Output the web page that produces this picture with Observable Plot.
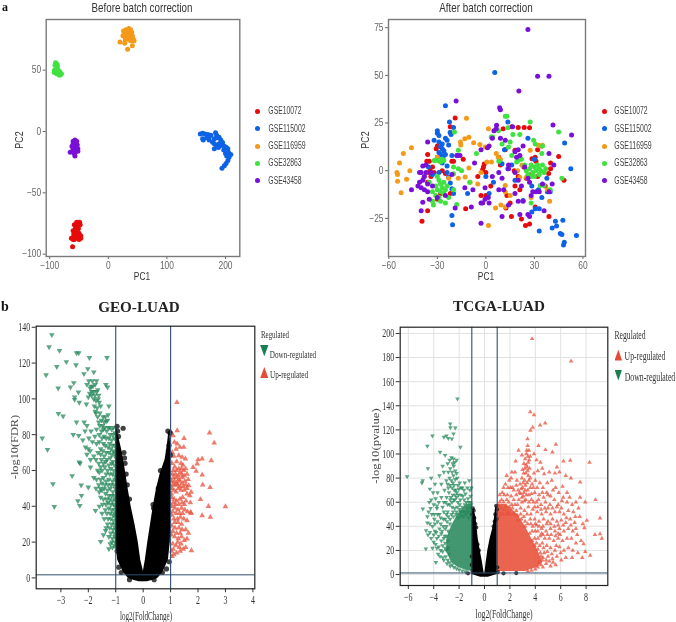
<!DOCTYPE html>
<html><head><meta charset="utf-8">
<script src="https://cdn.jsdelivr.net/npm/d3@7"></script>
<script src="https://cdn.jsdelivr.net/npm/@observablehq/plot@0.6"></script>
<style>
html,body{margin:0;padding:0;background:#fff}
#page{position:relative;width:676px;height:622px;overflow:hidden;background:#fff;filter:blur(0.35px)}
#page svg{position:absolute;background:transparent;max-width:none}
.t{position:absolute;white-space:nowrap;line-height:1;transform-origin:center}
</style></head><body><div id="page"></div>
<script>
// ---------- legend names
const groups = ["GSE10072","GSE115002","GSE116959","GSE32863","GSE43458"];
const groupColors = ["#e60b0b","#0d62e6","#f49a18","#3fe23f","#7a0fd9"];

// ---------- PCA before correction [PC1, PC2]
const before10072 = [[-61,-94],[-63,-87],[-60,-88],[-58,-88],[-56,-87],[-59,-84],[-57,-82],[-60,-81],[-56,-79],[-54,-85],[-53,-81],[-55,-77],[-54,-74],[-52,-76],[-49,-74],[-51,-79],[-48,-76],[-50,-83],[-47,-85],[-47,-87],[-52,-86],[-58,-76],[-50,-88]];
const before115002 = [[157,-2],[161,-1.5],[165,-2],[161,-6],[162,-7],[170,-2.5],[172,-4.6],[175,-3],[172,-7],[168,-5],[181,-6],[183,-1],[185,-3],[186,-5],[189,-4.6],[192,-7],[195,-9],[181,-10],[178,-8.7],[185,-11.4],[192,-11.4],[189,-10],[181,-14],[188,-13],[198,-12],[201,-12.8],[204,-14],[205,-17],[209,-18.7],[206,-21],[204,-23.6],[201,-26],[198,-28],[194,-30],[200,-18],[202,-20],[197,-15]];
const before116959 = [[20,73],[28,72],[33,67],[41,70],[44,74],[38,74],[42,76],[35,75],[30,77],[25,78],[28,80],[32,79],[37,79],[40,81],[34,82],[30,83],[26,82],[35,84],[38,83],[41,78],[33,76],[29,75],[36,78],[31,81]];
const before32863 = [[-91,54],[-90,56],[-88,55],[-92,50],[-89,51],[-87,52],[-86,50],[-90,48],[-92,48],[-88,47],[-85,48],[-84,46],[-82,46],[-80,47],[-83,49],[-86,47],[-88,49],[-87,54]];
const before43458 = [[-60,-8],[-57,-7],[-54,-8],[-62,-12],[-59,-11],[-56,-11],[-53,-11],[-60,-14],[-57,-13],[-54,-14],[-52,-14],[-61,-16],[-65,-17],[-58,-16],[-55,-16],[-52,-16],[-57,-20],[-58,-18],[-60,-10],[-55,-9]];

// ---------- PCA after correction [PC1, PC2]
const after10072 = [[-19,27.6],[-22,23],[-22,20],[-21,5],[-20,5],[-14,6],[-30.7,11.5],[-30,13],[-36,8.5],[-36.5,5],[-35,5],[-34.5,0],[-35,-1],[-34,-3],[-36,-6],[-32,-1],[-27,0],[-25,-1.5],[-36,-21],[-39.5,-26.5],[-12.5,-20],[-22,-12],[-30,-15],[10.7,22],[16,23],[20,22.7],[23.7,22.7],[27,22.5],[9,3],[-1,3.5],[-1.5,2],[0,-1],[-2,0.5],[-3,-13],[0,-13],[12.4,-19.5],[15.8,-24],[22,-25.3],[24.5,-28.7],[27,-28],[30.5,-19],[39,-24],[13,-13],[18,-8],[17.5,0],[23.5,2],[28.5,6.3],[31,5],[40,4],[40,1],[38.8,-1.5],[45,7.5],[48.3,-5],[34.6,13],[32,11],[12,11],[18,10.7],[8,7],[36.7,-8],[30.5,7],[25,-4],[28,-2],[32,-3],[20,-3],[-28,-12],[-33,2],[15,-17],[21,-10],[-5,-3],[3,-8]];
const after115002 = [[5.5,51.5],[-25,34],[-22.5,25.5],[-20,22.7],[-22,20],[-21.5,19],[-30,21],[-30,19.7],[-29,18.5],[-32,16],[-29,15],[-27,14],[-25,17],[-24,16],[-23,13.5],[-28,12.5],[-27,11.5],[-26,10.5],[-29,9.5],[-28,8.5],[-25,8.5],[-26.5,7],[-24,2.5],[-21,8],[-17.5,8],[-35.5,2],[-33,-2],[-29,-1],[-24,-1],[-23,-3.5],[-22,-6.5],[-21,-9.5],[-20,-12],[-21,-23.5],[-20.6,-28.3],[-11.3,-12],[56,-34],[48,-39],[48.5,-37.5],[46,-33],[47,-33.5],[47.6,-26],[43,-26.5],[43.7,-29],[41,-30],[33,-31.6],[33,-20],[30.5,-20],[28.4,-21.7],[52.5,1],[48.7,14.5],[13.6,25.5],[0,-3],[2,-12],[13.6,1],[16,3],[30,6],[37.7,-4],[39.8,-11],[38,-11],[34.6,-14],[32.5,-10],[28.4,-8],[23,-15.6],[18,-5],[4.7,-6],[10,3.7],[11.5,11],[26,17],[-30,7],[-27,4]];
const after116959 = [[-12,27.5],[1.6,22],[-46,12],[-51,9],[-53.4,4],[-55,-1],[-54.6,-2],[-54.6,-5.5],[-47,0],[-49,-4.5],[-52.4,-11.5],[-15.7,15],[-15.5,13.5],[-13,16.8],[-10.5,17.5],[-7.6,14.7],[-3.7,13.8],[-0.4,12.4],[-10.5,1.4],[-9.7,-6],[-5,-7],[-17,-4],[-12.8,-3.3],[1.6,-28.7],[6,-19.6],[9.3,-18],[12,-19],[15,-13],[12,-11],[12,-7.7],[0.6,4.5],[3.5,4.5],[6.4,9],[7.6,7],[27.4,10.7],[32.6,13.3],[35,13.3],[39.4,-16],[38,-10],[28,-14],[19.6,0],[22.3,2.8],[21,-3.5],[25,-3.5],[-30,7],[-38.6,-4],[-23,-4],[9,6],[-3,-1]];
const after32863 = [[12,28.5],[13,28.5],[27.4,25.5],[45,20.3],[-19.4,20.3],[-17,10.7],[-5.8,9],[7.8,21],[13.6,22.5],[16.7,19],[21,19],[3.3,17.7],[4.2,17.7],[10,14],[14,12.4],[15,15],[29.5,16],[30.5,14],[35,13],[34.6,9],[19,4.5],[20,5.4],[24,3],[25,0],[26,-2],[27,1],[28,3],[29,-1],[30,2],[30,-3],[31,0],[32,3],[33,-2],[33,1],[34,0],[35,3],[36,-1],[37,1],[28,-3],[33.6,-7.7],[36,-7.7],[39.8,-10],[47,-4],[28,-17],[-30,-3],[-29,-5],[-28,-7],[-31,-8],[-27,-9],[-26,-6],[-25,-10],[-24,-8],[-30,-10],[-28,-11],[-26,-12],[-31,-13],[-29,-14],[-33,-11],[-23,-14],[-32,5.4],[-26,5.4],[-27,6],[-28,4.5],[-20,-1.6],[-20,2],[-17,1],[-15,0],[-30,5.4],[-32.4,-18],[-33,-16],[-28,-16],[-25,-17],[-18,-17.7],[-20,-10],[-10,-6],[-35,-6],[8,5],[16,8],[22,6]];
const after43458 = [[26,74],[32,49.5],[39,49.5],[20.4,41.8],[-18.4,36.5],[8.5,33],[9,32],[41.5,24],[53,18.7],[6.6,23.8],[6.4,22],[-36,15],[16.5,23],[-41,-1],[-40,-1],[-39,2.5],[-37,3],[-37,-1],[-41,-6],[-42,-8],[-39,-5],[-40,-9],[-38,-10],[-36,-11],[-39,-16.5],[-40,-21],[-46,-10],[-33,-8],[-35,-15],[-30,-14],[-25,-13],[-21,-2],[-19,-19.5],[-13,-9],[-18,8],[-16,8],[-8,-10],[-7,4],[-9,-19],[-3,-17],[-2,-17],[-3,-27.5],[-0.5,-9],[-0.5,-15],[1.5,-14],[2,-17],[2,13],[-3,11],[1,12],[4,-3],[8,-10],[8,-1],[10,-4],[11,-10],[10,-24],[5,21],[4,17],[9,17],[12,16],[14,3],[14,1],[20,11],[18,10],[21,8],[19,7],[23,13],[18,-1],[20,-5],[22,-8],[18,-12],[20,-16],[23,-16],[14,-18],[21,-23],[27,-24],[26,-23],[33,-11],[31,-11],[29,-11],[28,-13],[36,-21],[35,-7],[39,9],[39,-11],[41,-7],[42,3],[24,2],[27,-6],[26,-4],[-36,-7],[-38,-3],[-34,-1]];

// ---------- GEO-LUAD volcano [log2FC, -log10FDR]
const geoDown = [[-3.33,135.8],[-3.43,129],[-3.05,127],[-2.43,125.7],[-2.35,125.7],[-1.96,123],[-1.32,123],[-2.8,120.7],[-2.45,119],[-3.15,118],[-3.54,113.4],[-2.02,116.8],[-2.16,114],[-1.8,115],[-3.1,106],[-2.65,106.5],[-2.53,109],[-1.36,108],[-1.3,106.5],[-2.36,103.7],[-2.5,101],[-2.5,99.6],[-2.33,98],[-3.09,91.8],[-2.92,90.3],[-2.43,87],[-3.68,78],[-3.49,71.7],[-2.55,80],[-2.35,79.5],[-3.29,52.5],[-3.24,39.8],[-2.59,57],[-2.33,64.6],[-2.3,64],[-2.26,51.8],[-2.25,46],[-2.38,43],[-2.31,40.4],[-2,50.7],[-1.92,61.8],[-1.55,20.3],[-1.37,26.4],[-1.25,16.2],[-1.74,37.6],
[-2.05,108],[-1.98,110],[-1.9,107],[-1.85,110],[-1.8,104],[-1.75,108],[-1.7,110],[-1.66,105],[-1.62,102],[-1.95,103],[-2.0,101],[-1.88,102],[-1.8,100],[-1.72,99],[-1.78,96],[-1.68,95],[-1.75,93],[-1.6,98],[-2.07,97],[-1.58,92],[-1.52,88],[-1.48,85],[-1.42,87],[-1.35,87.5],[-1.3,88],[-1.45,83],[-1.25,96],[-1.28,91],[-2.15,87],[-2.12,82],[-2.2,77],[-2.05,85],[-1.98,78],[-1.9,82],[-2.1,73],[-2.0,72],[-1.85,76],[-2.05,69],[-1.93,71],[-1.76,79],[-1.7,83],[-1.6,80],[-1.5,78],[-1.42,79],[-1.33,82],[-1.22,84],[-1.15,83],[-1.08,84],[-1.25,78],[-1.15,77],[-1.05,78],[-1.38,74],[-1.28,73],[-1.18,72],[-1.08,71],[-1.55,72],[-1.65,70],[-1.8,68],[-1.72,66],[-1.62,64],[-1.52,66],[-1.42,68],[-1.32,66],[-1.2,67],[-1.1,65],[-1.03,68],[-1.6,59],[-1.5,60],[-1.4,62],[-1.3,60],[-1.18,61],[-1.07,60],[-1.8,56],[-1.7,55],[-1.55,55],[-1.45,56],[-1.35,54],[-1.25,55],[-1.12,54],[-1.03,55],[-1.6,48],[-1.5,49],[-1.42,50],[-1.3,49],[-1.2,50],[-1.1,48],[-1.02,50],[-1.55,45],[-1.45,44],[-1.33,44],[-1.22,44],[-1.12,43],[-1.04,44],[-1.6,40],[-1.38,38],[-1.25,39],[-1.15,38],[-1.05,38],[-1.42,33],[-1.28,33],[-1.18,33],[-1.08,32],[-1.02,34],[-1.35,28],[-1.22,28],[-1.1,27],[-1.03,28],[-1.45,24],[-1.25,23],[-1.12,22],[-1.03,23],[-1.12,17],[-1.04,18]];
const geoDownMore = [[-1.93,106],[-1.87,104],[-1.83,107],[-1.76,102],[-1.7,104],[-1.64,100],[-1.72,92],[-1.66,90],[-1.55,96],[-1.62,87],[-1.38,90],[-1.46,90],[-1.4,84],[-1.52,82],[-1.58,85],[-1.35,78],[-1.28,84],[-1.2,80],[-1.1,80],[-1.03,81],[-1.45,75],[-1.6,76],[-1.7,75],[-1.22,75],[-1.12,74],[-1.04,74],[-1.92,66],[-1.55,69],[-1.47,71],[-1.35,70],[-1.25,70],[-1.15,69],[-1.05,70],[-1.45,64],[-1.37,65],[-1.25,63],[-1.15,64],[-1.05,63],[-1.55,62],[-1.66,60],[-1.35,58],[-1.22,58],[-1.12,58],[-1.03,57],[-1.5,53],[-1.4,52],[-1.28,52],[-1.17,52],[-1.07,52],[-1.62,52],[-1.72,50],[-1.56,50],[-1.37,47],[-1.25,46],[-1.15,46],[-1.06,46],[-1.48,41],[-1.36,41],[-1.28,42],[-1.18,41],[-1.08,41],[-1.02,40],[-1.5,36],[-1.32,36],[-1.2,36],[-1.1,35],[-1.03,36],[-1.3,30],[-1.15,30],[-1.05,30],[-1.18,25],[-1.06,25],[-1.03,20],[-1.14,20],[-1.2,19]];
const geoUp = [[1.23,98],[1.0,81.7],[1.24,82.3],[1.09,79.5],[2.42,81],[2.59,75.4],[1.49,78],[1.24,74.9],[1.14,75.8],[1.48,73],[1.06,70],[1.34,73],[1.3,68.3],[1.42,67.4],[1.54,66.5],[2.48,65.5],[2,66],[2.15,66.5],[1.97,63.7],[1.82,61.8],[2.15,57.5],[1.93,59.6],[2.17,52],[2.44,50.5],[2.09,43.8],[2.38,40],[3,39.8],[2.15,34.8],[2.45,33.9],[1.76,15.3],[1.73,36.7],[1.75,47.9],[1.66,51.6],[1.6,21.8],
[1.05,64],[1.15,62],[1.3,61],[1.4,61],[1.48,60],[1.55,61],[1.6,58],[1.5,57],[1.4,58],[1.28,57],[1.18,58],[1.07,58],[1.05,54],[1.14,54],[1.22,53],[1.32,54],[1.42,53],[1.52,54],[1.64,55],[1.05,50],[1.12,49],[1.2,48],[1.28,50],[1.38,49],[1.5,49],[1.6,47],[1.7,46],[1.04,45],[1.13,44],[1.22,43],[1.34,44],[1.44,45],[1.56,43],[1.72,42],[1.05,40],[1.16,39],[1.27,38],[1.4,39],[1.52,38],[1.62,37],[1.75,36],[1.04,35],[1.12,33],[1.25,33],[1.36,34],[1.48,33],[1.6,32],[1.05,29],[1.16,28],[1.3,28],[1.42,27],[1.55,27],[1.65,25],[1.03,24],[1.15,23],[1.28,22],[1.4,23],[1.5,21],[1.08,19],[1.2,18],[1.32,17],[1.46,16],[1.55,17],[1.03,15],[1.12,13],[1.22,14],[1.35,15],[1.05,12]];
const geoUpMore = [[1.1,56],[1.2,56],[1.3,55],[1.35,51],[1.25,52],[1.15,52],[1.08,52],[1.42,56],[1.55,52],[1.46,51],[1.6,50],[1.1,60],[1.22,60],[1.35,59],[1.45,63],[1.38,64],[1.22,65],[1.12,68],[1.2,72],[1.03,47],[1.1,42],[1.18,41],[1.3,41],[1.42,42],[1.5,41],[1.08,37],[1.2,36],[1.33,36],[1.44,36],[1.15,31],[1.27,31],[1.4,30],[1.08,26],[1.22,25],[1.35,25],[1.1,16],[1.26,20],[1.38,19]];
const geoBlack = [[-0.73,83.6],[-0.95,84.7],[-0.93,82],[-0.9,79],[0.9,82],[0.98,81],[-0.7,70],[-0.68,67],[-0.66,64],[0.94,74],[0.99,68.7],[0.92,71],[-0.89,6],[0.63,60],[0.72,58],[0.36,41],[0.38,39],[0.77,55],[0.7,55],[-0.62,58],[-0.58,52],[-0.5,44],[-0.95,15],[-0.8,3],[0.95,9],[0.85,5],[0.7,3],[-0.5,-1],[0.4,-1],[-0.45,1],[0.55,50]];
const geoLeftY = [-2.2,-1,0,3,10,20,30,40,50,60,70,78,85];
const geoLeftOuter = [-0.15,-0.42,-0.55,-0.72,-0.93,-1,-1,-1,-1,-1,-1,-1,-1];
const geoLeftInner = [0.02,0.02,0.03,0.02,-0.09,-0.18,-0.3,-0.44,-0.55,-0.65,-0.76,-0.88,-0.98];
const geoRightY = [-2.2,-1,0,3,10,20,30,40,50,58,66,74,81];
const geoRightInner = [-0.02,-0.02,-0.02,0,0.08,0.17,0.27,0.37,0.49,0.62,0.8,0.88,0.93];
const geoRightOuter = [0.15,0.42,0.55,0.72,0.92,0.99,1,1,1,1,1,1,0.98];

// ---------- TCGA-LUAD volcano [log2FC, -log10pvalue]
const tcgaDown = [[-2.13,145.8],[-2.7,125],[-2.68,122],[-2.3,121.7],[-4.1,115],[-4.5,106.5],[-3.2,114],[-3.0,115],[-2.85,113],[-2.44,116.7],[-2.57,112.6],[-6.1,81.3],[-4.93,76],[-4.87,78],[-4.46,88],[-4.2,80],[-4.3,71],[-3.5,101.5],[-3.1,99],[-1.9,105.7],[-2.44,96],[-2.2,95],[-4.86,54.5],[-4.62,21.3],[-4.6,36.5],[-3.83,10.2],
[-4.35,60],[-4.2,62],[-4.0,58],[-3.85,63],[-4.4,52],[-4.15,50],[-3.95,50],[-3.75,55],[-3.6,60],[-3.4,64],[-3.55,50],[-3.3,56],[-4.5,43],[-4.3,42],[-4.1,40],[-3.9,42],[-3.7,44],[-3.45,42],[-3.25,46],[-4.45,33],[-4.2,30],[-4.0,33],[-3.8,35],[-3.6,32],[-3.35,36],[-4.1,22],[-3.85,25],[-3.6,23],[-3.4,28],[-3.2,30],[-3.5,15],[-3.3,19],[-3.1,38],[-3.0,50],[-3.05,60],[-3.15,70],[-3.4,75],[-3.0,78],[-3.2,85],[-2.9,92],[-2.85,85],[-2.7,88],[-2.55,85],[-2.75,80],[-2.6,78],[-2.45,82],[-2.3,86],[-2.15,80],[-2.55,72],[-2.4,74],[-2.25,70],[-2.1,74],[-1.95,76],[-1.75,72],[-1.55,76],[-1.2,78],[-1.35,72],[-1.15,70],[-2.8,68],[-2.65,64],[-2.5,66],[-2.35,62],[-2.2,64],[-2.05,66],[-1.9,62],[-1.7,65],[-1.5,67],[-1.3,63],[-1.1,65],[-2.75,58],[-2.55,56],[-2.35,55],[-2.15,56],[-1.95,54],[-1.75,56],[-1.55,58],[-1.35,55],[-1.15,56],[-2.85,48],[-2.7,46],[-2.6,50],[-2.45,48],[-2.25,50],[-2.05,47],[-1.85,49],[-1.65,48],[-1.45,50],[-1.25,47],[-1.08,49],[-3.0,40],[-2.85,36],[-3.1,26],[-3.2,12],[-3.0,20],[-2.95,9],[-2.7,7]];
const tcgaDownMore = [[-2.5,92],[-2.42,90],[-2.35,93],[-2.6,97],[-2.75,95],[-2.3,79],[-2.2,84],[-2.38,70],[-2.48,76],[-2.7,74],[-2.85,72],[-2.18,68],[-2.3,66],[-2.42,62],[-2.55,60],[-2.7,62],[-2.9,58],[-2.98,64],[-3.2,52],[-3.1,46],[-2.95,44],[-2.72,42],[-2.9,52],[-2.48,52],[-2.1,60],[-1.95,58],[-1.85,66],[-1.6,62],[-1.42,60],[-1.25,60],[-1.1,60],[-2.2,52],[-1.9,52],[-1.7,52],[-1.52,52],[-1.3,52],[-1.12,52],[-1.05,58],[-1.03,72],[-1.62,70],[-1.85,72],[-2.02,71],[-3.25,40],[-3.4,34],[-3.15,32],[-3.55,38],[-3.75,30],[-3.9,36],[-3.3,24],[-3.1,22],[-3.45,20],[-3.65,17],[-3.28,14],[-3.05,15],[-2.9,12],[-2.75,10],[-2.55,8],[-2.4,6],[-2.2,5],[-2.0,4],[-1.75,3],[-1.5,2.5],[-2.9,28],[-2.85,22],[-3.0,32],[-2.8,17],[-3.95,46],[-3.7,50],[-3.45,47],[-3.2,60],[-2.9,75],[-3.3,90],[-3.55,82],[-3.7,68],[-4.05,68],[-3.9,75],[-3.75,57],[-4.25,55],[-4.5,48],[-4.3,35],[-4.0,27],[-3.75,22]];
const tcgaUp = [[3.75,195.6],[6.82,177],[3.6,135],[3.9,132.5],[4.38,124],[4.78,125.6],[3.8,122],[3.62,119.5],[3.39,112.6],[5.62,108],[4.8,103.5],[4.25,107],[5.35,101.5],[2.68,103],[8.27,93],[6.75,94.6],[6.22,94],[5.7,89],[5.1,85],[4.7,83.5],[8.74,62],[9.1,46.7],[8.7,33],[9.1,33.7],[9.24,30],[8.06,44.8],[7.87,38.7],[7.53,76.6],[7.93,60],[7.53,64],[8.32,15.8],[7.93,19],[7.8,25.4],[7.2,38],[6.7,64],
[3.4,107],[3.5,103],[3.3,100],[3.6,98],[3.2,96],[3.45,93],[3.1,92],[3.35,89],[3.55,88],[3.0,87],[3.25,84],[3.45,82],[2.95,80],[3.15,78],[3.35,76],[3.6,80],[2.8,75],[3.0,72],[3.2,70],[2.65,70],[2.85,67],[3.05,65],[3.3,66],[2.5,66],[2.7,62],[2.95,60],[3.15,61],[2.3,62],[2.1,65],[1.9,60],[1.7,57],[1.5,60],[1.3,55],[1.1,57],[2.4,85],[2.1,80],[2.55,78],[1.75,82],[1.5,72],[2.2,72],[1.85,72],[2.45,94],[2.95,99],[3.9,100],[4.1,95],[4.4,93],[4.55,88],[4.2,86],[3.9,84],[4.0,78],[4.35,76],[4.6,72],[4.95,76],[5.3,78],[5.55,84],[5.9,85],[6.4,82],[6.8,80],[6.15,73],[5.85,68],[5.4,70],[5.0,66],[4.65,64],[4.3,66],[3.95,68],[3.7,62],[4.1,60],[4.45,58],[4.8,60],[5.15,58],[5.5,62],[5.8,58],[6.1,61],[6.5,60],[6.9,58],[7.2,60],[7.4,55],[7.0,52],[6.6,53],[6.25,50],[5.9,52],[5.55,52],[5.2,50],[4.85,52],[4.5,50],[4.15,52],[3.8,54],[3.45,56],[3.15,53],[2.85,55],[2.5,53],[2.2,55],[1.8,52],[1.45,50],[1.15,48],[3.6,46],[3.95,46],[4.3,44],[4.65,46],[5.0,44],[5.35,46],[5.7,44],[6.05,45],[6.4,43],[6.75,46],[7.1,43],[7.5,48],[7.75,42],[7.3,33],[6.95,36],[6.6,38],[6.25,36],[5.9,38],[5.55,36],[5.2,38],[4.85,36],[4.5,38],[4.1,41],[3.8,40],[7.6,28],[7.2,26],[6.85,30],[6.5,30],[6.15,28],[5.8,30],[5.45,28],[5.1,30],[4.75,30],[4.4,32],[6.95,20],[6.6,22],[6.25,20],[5.9,23],[5.55,20],[5.2,22],[4.9,24],[4.55,26],[6.4,14],[6.05,12],[5.7,15],[5.35,13],[5.0,15],[4.7,18],[5.6,8],[5.2,7],[4.85,9],[4.55,12],[4.6,6],[7.35,18],[7.7,14],[6.9,14],[2.6,45],[2.9,46],[3.2,44]];
const tcgaUpMore = [[3.32,103],[3.42,98],[3.52,95],[3.28,91],[3.4,86],[3.18,88],[3.08,84],[3.5,78],[3.22,74],[3.05,76],[2.9,71],[3.1,68],[2.75,68],[2.95,64],[3.4,70],[3.6,72],[3.75,75],[3.5,66],[3.7,67],[3.25,62],[2.6,58],[2.4,58],[2.15,58],[1.95,56],[1.75,62],[1.55,66],[1.35,62],[1.2,60],[1.08,52],[1.25,50],[1.55,54],[1.75,50],[2.0,50],[2.3,50],[2.6,49],[2.85,50],[3.1,48],[3.35,50],[3.65,50],[3.95,56],[4.2,56],[4.45,54],[4.75,55],[3.5,60],[3.85,60],[4.25,62],[4.55,68],[4.15,72],[3.85,72],[2.3,70],[2.05,72],[1.8,66],[2.5,74],[2.15,85],[1.95,78],[1.65,75],[1.4,68],[1.2,66],[3.4,42],[3.65,42],[3.2,40],[4.0,42],[4.3,40],[4.6,40],[4.9,42],[5.2,42],[5.5,40],[5.8,41],[4.2,36],[4.5,34],[4.0,36],[3.75,36],[3.55,34],[4.2,30],[3.95,30],[3.75,28],[4.6,33],[4.95,33],[5.25,33],[5.6,32],[5.95,33],[4.1,26],[4.35,24],[4.65,22],[4.95,19],[5.3,17],[5.65,24],[6.0,18],[4.4,18],[4.6,14],[4.85,12],[5.1,11],[5.4,10],[4.45,8],[4.2,6],[4.0,4.5],[3.7,3.5],[3.4,2.8],[4.3,10],[4.45,15],[4.2,21],[3.95,24],[5.8,34],[6.2,41],[5.0,55],[5.35,55],[5.7,56],[6.05,55],[6.45,47],[6.8,41],[7.15,48],[6.2,64],[6.5,68],[5.6,72],[5.2,65],[4.9,68]];
const tcgaBlack = [[-0.92,55],[-0.85,53],[-0.95,50],[-0.8,47],[-0.88,45],[-0.72,42],[-0.65,39],[0.92,57],[0.97,54],[0.85,50],[0.95,46],[0.8,44],[0.72,40],[0.65,30],[0.55,26],[-1.0,8],[-1.0,15],[-0.95,3],[1.0,6],[1.5,1],[2.5,1.2],[-1.3,1],[1.05,2],[-0.55,25],[-0.45,20]];
const tcgaLeftY = [-2.2,0,2,10,20,30,40,48,54];
const tcgaLeftOuter = [-0.3,-1,-1,-1,-1,-1,-1,-0.98,-0.96];
const tcgaLeftInner = [0,0,-0.04,-0.16,-0.34,-0.5,-0.6,-0.68,-0.85];
const tcgaRightY = [-2.2,0,2,10,20,30,40,48,56];
const tcgaRightInner = [0,0,0.04,0.13,0.26,0.45,0.7,0.8,0.88];
const tcgaRightOuter = [0.3,1,1,1,1,1,1,1,0.98];
const tcgaGreenY = [3,6,10,20,30,40,50,58];
const tcgaGreenLeft = [-1.3,-2.1,-2.6,-3,-2.95,-2.6,-2.1,-1.4];
const tcgaGreenRight = [-1,-1,-1,-1,-1,-1,-1,-1];
const tcgaRedY = [2.5,6,10,20,30,40,50,58];
const tcgaRedLeft = [1,1,1,1,1,1,1,1];
const tcgaRedRight = [3.2,4.2,4.6,4.2,3.7,3.2,2.6,1.7];

// ---------- axis ticks and lines
const beforeTicksX=[-100,0,100,200], beforeTicksY=[-100,-50,0,50];
const afterTicksX=[-60,-30,0,30,60], afterTicksY=[-25,0,25,50,75];
const geoTicksX=[-3,-2,-1,0,1,2,3,4], geoTicksY=[0,20,40,60,80,100,120,140];
const tcgaTicksX=[-6,-4,-2,0,2,4,6,8], tcgaTicksY=[0,20,40,60,80,100,120,140,160,180,200];
const foldCut=[-1,1];

// ---------- helpers
const page=document.getElementById("page");
const SANS='"Liberation Sans",Arial,sans-serif', SERIF='"Liberation Serif","Times New Roman",serif';
function txt(s,cx,cy,o={}){
  const e=document.createElement("div");e.className="t";e.textContent=s;
  e.style.fontFamily=o.font||SANS;e.style.fontSize=(o.size||11)+"px";
  e.style.fontWeight=o.weight||400;e.style.color=o.color||"#333";
  e.style.left=cx+"px";e.style.top=cy+"px";page.appendChild(e);
  const k=o.width?o.width/e.offsetWidth:1;
  e.style.transform=`translate(-50%,-50%) rotate(${o.rot||0}deg) scaleX(${k})`;
}
function swatch(cx,cy,color){
  const e=document.createElement("div");e.style.cssText=`position:absolute;left:${cx-2.5}px;top:${cy-2.5}px;width:5px;height:5px;border-radius:50%;background:${color}`;page.appendChild(e);
}
function tri(cx,cy,w,h,color,down){
  const e=document.createElement("div");
  e.style.cssText=`position:absolute;left:${cx-w/2}px;top:${cy-h/2}px;width:${w}px;height:${h}px;background:${color};clip-path:polygon(${down?"0 0,100% 0,50% 100%":"50% 0,100% 100%,0 100%"})`;
  page.appendChild(e);
}
function place(svg,left,top,squeeze){
  svg.style.left=left+"px";svg.style.top=top+"px";page.appendChild(svg);
  svg.querySelectorAll("text").forEach(t=>{
    const n=t.getComputedTextLength();
    t.setAttribute("textLength",(n*squeeze).toFixed(2));
    t.setAttribute("lengthAdjust","spacingAndGlyphs");
  });
}
const triangleDown={draw(c,size){const y=Math.sqrt(size/(Math.sqrt(3)*3));
  c.moveTo(0,y*2);c.lineTo(-Math.sqrt(3)*y,-y);c.lineTo(Math.sqrt(3)*y,-y);c.closePath();}};
const triangleUp={draw(c,size){const y=Math.sqrt(size/(Math.sqrt(3)*3));
  c.moveTo(0,-y*2);c.lineTo(-Math.sqrt(3)*y,y);c.lineTo(Math.sqrt(3)*y,y);c.closePath();}};
const zip=(ys,a,b)=>ys.map((y,i)=>({y,a:a[i],b:b[i]}));

function pca(sets,L,R,T,B,xd,yd,tx,ty,left,width){
  return Plot.plot({width,height:285,marginLeft:L-left,marginRight:left+width-R,marginTop:T,marginBottom:285-B,
    x:{domain:xd},y:{domain:yd},style:{fontFamily:SANS,background:"transparent"},
    marks:[
      Plot.axisX({ticks:tx,tickSize:3,tickPadding:2,label:null,fontSize:10,color:"#666",tickFormat:d=>d<0?"−"+(-d):""+d}),
      Plot.axisY({ticks:ty,tickSize:3,tickPadding:2,label:null,fontSize:10,color:"#666",tickFormat:d=>d<0?"−"+(-d):""+d}),
      ...sets.map((s,i)=>Plot.dot(s,{x:d=>d[0],y:d=>d[1],r:2.5,fill:groupColors[i],stroke:"none"})),
      Plot.frame({stroke:"#7a7a7a",strokeWidth:1.4})
    ]});
}

// ---------- panel a
place(pca([before10072,before115002,before116959,before32863,before43458],45.7,239.3,19,256,[-106,224.4],[-101.9,91.3],beforeTicksX,beforeTicksY,0,245),0,0,0.84);
place(pca([after10072,after115002,after116959,after32863,after43458],388,585,19,256,[-60.2,61.6],[-45,79.3],afterTicksX,afterTicksY,345,245),345,0,0.84);

txt("a",5,6.5,{font:SERIF,weight:700,size:12,color:"#111"});
txt("b",5,306.5,{font:SERIF,weight:700,size:14,color:"#111"});
txt("Before batch correction",142,7,{size:13,width:100.5});
txt("After batch correction",485.7,7,{size:13,width:93.7});
txt("PC1",141.7,277,{size:11.5,width:16});
txt("PC1",485.7,277,{size:11.5,width:16});
txt("PC2",20,140,{size:11.5,width:17,rot:-90});
txt("PC2",366,140,{size:11.5,width:17,rot:-90});
const legendRows=[111,128.7,146,163.3,180.7], legendW=[33.3,37.3,37.5,33.3,33.3];
groups.forEach((g,i)=>{
  swatch(257.3,legendRows[i],groupColors[i]);
  txt(g,268+legendW[i]/2,legendRows[i],{size:10,width:legendW[i],color:"#444"});
  swatch(604,legendRows[i],groupColors[i]);
  txt(g,614+legendW[i]/2,legendRows[i],{size:10,width:legendW[i],color:"#444"});
});

// ---------- panel b
const GREEN="#26885a", RED="#e8503b", NAVY="#2f4f6f", LEG_G="#1a7f50", LEG_R="#e64b35";
function volcano(cfg){
  const {L,R,T,B,left,top,width,height,xd,yd,tx,ty,r}=cfg;
  return Plot.plot({width,height,marginLeft:L-left,marginRight:left+width-R,marginTop:T-top,marginBottom:top+height-B,
    x:{domain:xd},y:{domain:yd},style:{fontFamily:SERIF,background:"transparent"},
    marks:[
      ...(cfg.grid?[Plot.gridX(tx,{stroke:"#e2e2e2",strokeOpacity:1}),Plot.gridY(ty,{stroke:"#e2e2e2",strokeOpacity:1})]:[]),
      Plot.axisX({ticks:tx,tickSize:4,tickPadding:3,label:null,fontSize:12,color:"#333",tickFormat:d=>d<0?"−"+(-d):""+d}),
      Plot.axisY({ticks:ty,tickSize:4,tickPadding:2,label:null,fontSize:12,color:"#333"}),
      ...(cfg.masses||[]).map(m=>Plot.areaX(zip(m.y,m.a,m.b),{y:"y",x1:"a",x2:"b",fill:m.fill,fillOpacity:m.op??1})),
      Plot.dot(cfg.down,{x:d=>d[0],y:d=>d[1],r,symbol:triangleDown,fill:GREEN,fillOpacity:.75,stroke:"none"}),
      Plot.dot(cfg.up,{x:d=>d[0],y:d=>d[1],r,symbol:triangleUp,fill:RED,fillOpacity:.75,stroke:"none"}),
      ...cfg.arms.map(m=>Plot.areaX(zip(m.y,m.a,m.b),{y:"y",x1:"a",x2:"b",fill:"#000"})),
      Plot.dot(cfg.black,{x:d=>d[0],y:d=>d[1],r:cfg.br,fill:"#000",fillOpacity:.75,stroke:"none"}),
      Plot.ruleX(foldCut,{stroke:NAVY,strokeWidth:1.1}),
      Plot.ruleY([cfg.cut],{stroke:NAVY,strokeWidth:1}),
      Plot.frame({stroke:"#222",strokeWidth:1.2})
    ]});
}
place(volcano({L:35.7,R:254.3,T:325.7,B:588.3,left:0,top:310,width:260,height:300,xd:[-3.9,4.07],yd:[-6.1,140.6],tx:geoTicksX,ty:geoTicksY,r:2.1,br:2.6,cut:1.7,
  down:[...geoDown,...geoDownMore],up:[...geoUp,...geoUpMore],black:geoBlack,
  arms:[{y:geoLeftY,a:geoLeftOuter,b:geoLeftInner},{y:geoRightY,a:geoRightInner,b:geoRightOuter}]}),0,310,0.66);
place(volcano({L:399.7,R:607.3,T:326.7,B:585,left:375,top:310,width:235,height:300,xd:[-6.64,9.71],yd:[-9.1,205.2],tx:tcgaTicksX,ty:tcgaTicksY,r:1.7,br:2.1,cut:1.3,grid:true,
  down:[...tcgaDown,...tcgaDownMore],up:[...tcgaUp,...tcgaUpMore],black:tcgaBlack,
  masses:[{y:tcgaGreenY,a:tcgaGreenLeft,b:tcgaGreenRight,fill:"#2f8c60",op:.9},{y:tcgaRedY,a:tcgaRedLeft,b:tcgaRedRight,fill:"#e8533d",op:.9}],
  arms:[{y:tcgaLeftY,a:tcgaLeftOuter,b:tcgaLeftInner},{y:tcgaRightY,a:tcgaRightInner,b:tcgaRightOuter}]}),375,310,0.66);

txt("GEO-LUAD",139.3,307,{font:SERIF,weight:700,size:15,width:81.7,color:"#222"});
txt("TCGA-LUAD",499,306,{font:SERIF,weight:700,size:15,width:92,color:"#222"});
txt("-log10(FDR)",15,447,{font:SERIF,size:10,width:64,rot:-90,color:"#444"});
txt("log2(FoldChange)",145.7,615.5,{font:SERIF,size:12,width:52});
txt("-log10(pvalue)",376,445.5,{font:SERIF,size:10.5,width:75,rot:-90,color:"#444"});
txt("log2(FoldChange)",503.7,614,{font:SERIF,size:12,width:57});
txt("Regulated",275,334,{font:SERIF,size:11,width:28.3});
tri(264.3,350.5,8.5,11.5,LEG_G,true);
txt("Down-regulated",292.7,353.5,{font:SERIF,size:11,width:46});
tri(264.3,372.5,8,11,LEG_R,false);
txt("Up-regulated",288.7,374,{font:SERIF,size:11,width:38});
txt("Regulated",630,335.7,{font:SERIF,size:11.5,width:31.3});
tri(618.3,355,7.5,11,LEG_R,false);
txt("Up-regulated",645,356.7,{font:SERIF,size:11.5,width:41});
tri(618.3,375,7.5,11,LEG_G,true);
txt("Down-regulated",650,378.3,{font:SERIF,size:11.5,width:50.7});
</script></body></html>
